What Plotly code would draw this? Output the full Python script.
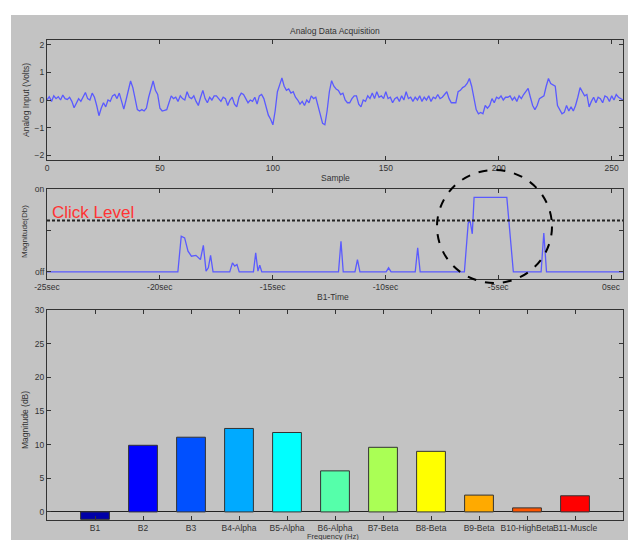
import plotly.graph_objects as go

# ---------------- data ----------------
signal = [
    0.0, 0.12, -0.05, 0.15, 0.05, 0.12, 0.0, 0.18, 0.05, 0.02,
    0.1, -0.05, -0.28, -0.1, 0.05, -0.05, 0.1, 0.27, 0.05, 0.0,
    0.25, 0.1, -0.2, -0.57, -0.3, -0.1, -0.25, 0.0, -0.05, 0.15,
    0.2, 0.05, 0.25, -0.05, -0.33, 0.0, 0.35, 0.69, 0.45, 0.05,
    -0.35, -0.4, -0.35, -0.4, -0.3, 0.1, 0.45, 0.69, 0.35, 0.2,
    -0.3, -0.4, -0.38, -0.35, -0.1, 0.15, 0.05, 0.1, -0.05, 0.15,
    0.05, 0.0, 0.3, 0.1, 0.05, 0.15, -0.05, -0.2, 0.1, 0.35,
    0.05, -0.1, 0.1, 0.0, 0.15, 0.15, 0.05, -0.05, 0.1, 0.05,
    -0.2, 0.0, 0.1, -0.15, -0.25, 0.1, 0.25, 0.2, 0.05, -0.1,
    0.0, -0.05, 0.1, -0.15, 0.15, 0.2, 0.05, -0.3, -0.55, -0.7,
    -0.9, -0.4, 0.3, 0.55, 0.8, 0.5, 0.35, 0.4, 0.25, 0.3,
    0.1, 0.0, -0.15, -0.05, -0.2, 0.0, -0.1, 0.15, 0.05, 0.1,
    -0.2, -0.6, -0.85, -0.9, -0.4, 0.3, 0.7, 0.5, 0.4, 0.35,
    0.2, 0.25, 0.0, -0.1, -0.1, 0.05, 0.15, 0.15, -0.15, -0.25,
    0.0, -0.05, 0.15, 0.05, 0.25, 0.05, 0.3, 0.1, 0.15, 0.05,
    0.3, 0.05, 0.1, -0.1, 0.05, 0.1, -0.05, 0.15, 0.0, 0.3,
    0.05, 0.1, -0.05, 0.1, 0.0, 0.15, -0.05, 0.1, 0.0, 0.15,
    -0.05, 0.1, 0.05, 0.2, 0.05, 0.1, 0.2, 0.3, 0.05, -0.1,
    -0.1, -0.1, 0.3, 0.35, 0.45, 0.5, 0.6, 0.78, 0.5, 0.1,
    -0.35, -0.5, -0.45, -0.5, -0.2, -0.3, -0.2, 0.05, -0.1, 0.1,
    0.05, 0.15, 0.0, 0.1, 0.1, 0.15, 0.0, 0.1, -0.05, 0.15,
    0.05, 0.2, 0.3, 0.42, 0.1, -0.2, -0.35, -0.2, 0.05, 0.1,
    0.15, 0.5, 0.78, 0.6, 0.55, 0.5, -0.2, -0.35, -0.5, -0.45,
    -0.2, -0.4, -0.25, -0.4, -0.2, 0.1, 0.45, 0.3, 0.15, 0.2,
    -0.25, -0.05, 0.1, -0.1, 0.1, 0.05, -0.1, 0.15, 0.1, -0.05,
    0.15, 0.0, 0.2, 0.1, 0.05, 0.0,
]
samples = list(range(len(signal)))

b1_time = [-25, -19.2, -19.05, -18.9, -18.75, -18.6, -18.4, -18.2, -18.07, -17.95,
           -17.85, -17.75, -17.64, -16.9, -16.78, -16.68, -16.58, -16.48, -15.85, -15.75,
           -15.65, -15.57, -15.48, -12.08, -11.97, -11.87, -11.35, -11.24, -11.13, -9.97,
           -9.86, -9.75, -8.68, -8.57, -8.46, -6.5, -6.33, -6.25, -6.15, -6.07,
           -4.62, -4.33, -3.1, -2.98, -2.86, 0.53]
b1_mag = [0, 0, 0.43, 0.41, 0.25, 0.19, 0.2, 0.15, 0.32, 0.01,
          0.05, 0.2, 0, 0, 0.11, 0.07, 0.09, 0, 0, 0.23,
          0.01, 0.08, 0, 0, 0.37, 0, 0, 0.15, 0, 0,
          0.05, 0, 0, 0.29, 0, 0, 0.59, 0.62, 0.46, 0.9,
          0.9, 0, 0, 0.47, 0, 0]
click_level = 0.62

bands = ["B1", "B2", "B3", "B4-Alpha", "B5-Alpha", "B6-Alpha", "B7-Beta",
         "B8-Beta", "B9-Beta", "B10-HighBeta", "B11-Muscle"]
band_db = [-1.1, 9.9, 11.1, 12.4, 11.8, 6.1, 9.6, 9.0, 2.5, 0.6, 2.4]
band_colors = ["#0000a8", "#0000ff", "#0050ff", "#00aaff", "#00ffff", "#55ffaa",
               "#aaff55", "#ffff00", "#ffaa00", "#ff5500", "#ff0000"]

# ---------------- figure ----------------
W, H = 628, 540
FONT = "Liberation Sans, Arial, sans-serif"
TXT = "#333333"
LINE_BLUE = "#5a5aff"

def px_x(p):
    return p / W

def px_y(p):
    return 1 - p / H

fig = go.Figure()

fig.add_trace(go.Scatter(x=samples, y=signal, mode="lines",
                         line=dict(color=LINE_BLUE, width=1.3),
                         xaxis="x", yaxis="y", hoverinfo="skip"))
fig.add_trace(go.Scatter(x=b1_time, y=b1_mag, mode="lines",
                         line=dict(color=LINE_BLUE, width=1.3),
                         xaxis="x2", yaxis="y2", hoverinfo="skip"))
fig.add_trace(go.Scatter(x=[b1_time[0], b1_time[-1]], y=[click_level, click_level],
                         mode="lines", line=dict(color="#222222", width=2, dash="3px,2px"),
                         xaxis="x2", yaxis="y2", hoverinfo="skip"))
fig.add_trace(go.Bar(x=list(range(1, len(bands) + 1)), y=band_db, width=0.6,
                     marker=dict(color=band_colors, line=dict(color="#333333", width=1)),
                     xaxis="x3", yaxis="y3", hoverinfo="skip"))

dom_x = [px_x(47), px_x(623)]
axis_common = dict(showline=True, linecolor="#333333", linewidth=1, mirror="allticks",
                   ticks="inside", ticklen=4, tickcolor="#333333", showgrid=False,
                   zeroline=False, automargin=False,
                   tickfont=dict(family=FONT, size=8.5, color=TXT))

fig.update_layout(
    width=W, height=H, margin=dict(l=0, r=0, t=0, b=0, autoexpand=False),
    paper_bgcolor="white", plot_bgcolor="white", showlegend=False,
    font=dict(family=FONT, color=TXT),
    xaxis=dict(domain=dom_x, anchor="y", range=[0, 255],
               tickvals=[0, 50, 100, 150, 200, 250], **axis_common),
    yaxis=dict(domain=[px_y(160), px_y(40)], anchor="x", range=[-2.18, 2.18],
               tickvals=[-2, -1, 0, 1, 2], **axis_common),
    xaxis2=dict(domain=dom_x, anchor="y2", range=[-25, 0.53],
                tickvals=[-25, -20, -15, -10, -5, 0],
                ticktext=["-25sec", "-20sec", "-15sec", "-10sec", "-5sec", "0sec"],
                **axis_common),
    yaxis2=dict(domain=[px_y(279), px_y(189)], anchor="x2", range=[-0.085, 1.0],
                tickvals=[0, 0.5, 1.0], ticktext=["off", "", "on"], **axis_common),
    xaxis3=dict(domain=dom_x, anchor="y3", range=[0, 12],
                tickvals=list(range(1, len(bands) + 1)), ticktext=bands, tickangle=0,
                **axis_common),
    yaxis3=dict(domain=[px_y(520), px_y(310)], anchor="x3", range=[-1.2, 30],
                tickvals=[0, 5, 10, 15, 20, 25, 30], **axis_common),
)
fig.layout.yaxis3.zeroline = True
fig.layout.yaxis3.zerolinecolor = "#222222"
fig.layout.yaxis3.zerolinewidth = 1.2

# gray window background + dashed circle
fig.add_shape(type="rect", xref="paper", yref="paper", layer="below",
              x0=px_x(11), x1=1.0, y0=0.0, y1=px_y(15),
              fillcolor="#c3c3c3", line=dict(width=0))
fig.add_shape(type="circle", xref="paper", yref="paper",
              x0=px_x(437), x1=px_x(552), y0=px_y(283), y1=px_y(170),
              line=dict(color="black", width=2, dash="dash"))

def ann(text, x, y, size=8.5, color=TXT, angle=0, xanchor="center", yanchor="middle"):
    fig.add_annotation(text=text, xref="paper", yref="paper", x=px_x(x), y=px_y(y),
                       showarrow=False, textangle=angle, xanchor=xanchor, yanchor=yanchor,
                       font=dict(family=FONT, size=size, color=color))

ann("Analog Data Acquisition", 335, 31)
ann("Analog Input (Volts)", 26, 100, angle=-90)
ann("Sample", 335, 178)
ann("Magnitude(Db)", 25, 232, size=8, angle=-90)
ann("Click Level", 50, 213, size=17, color="#ff3333", xanchor="left")
ann("B1-Time", 333, 297)
ann("Magnitude (dB)", 25, 420, angle=-90)
fig.add_annotation(text="Frequency (Hz)", xref="paper", yref="paper", x=px_x(333), y=0,
                   showarrow=False, xanchor="center", yanchor="bottom", yshift=-3,
                   font=dict(family=FONT, size=7.5, color=TXT))

fig.write_html("out.html")
